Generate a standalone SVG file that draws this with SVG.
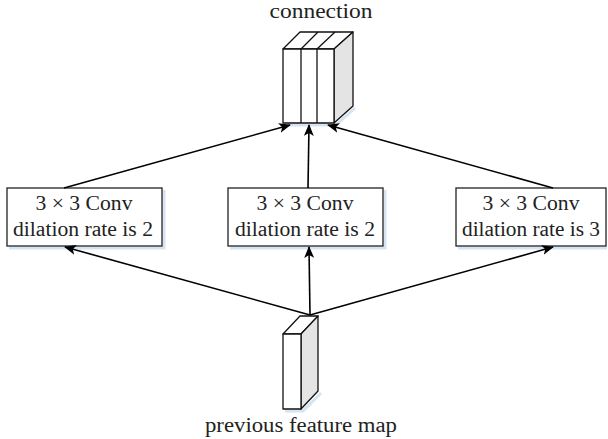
<svg xmlns="http://www.w3.org/2000/svg" width="608" height="439" viewBox="0 0 608 439">
<defs>
<marker id="ah" markerWidth="12" markerHeight="10" refX="11" refY="5" orient="auto" markerUnits="userSpaceOnUse">
<path d="M0,0 L12,5 L0,10 L3,5 Z" fill="#000"/>
</marker>
</defs>
<style>
text{font-family:"Liberation Serif","DejaVu Serif",serif;fill:#222;text-anchor:middle}
.t{font-size:20px}
.box{fill:#fff;stroke:#222;stroke-width:1.3}
.sh{fill:none;stroke:#d6e4f2;stroke-width:3}
.face{fill:#fff;stroke:#111;stroke-width:1.3;stroke-linejoin:round}
.side{fill:#e4e4e4;stroke:#111;stroke-width:1.3;stroke-linejoin:round}
.c{stroke:#000;stroke-width:1.6;fill:none;marker-end:url(#ah)}
</style>
<g id="connection">
<path class="sh" d="M285,125 L336,125 L355,108"/>
<polygon class="face" points="283,49 300,32 353,32 334,49"/>
<line x1="301" y1="49" x2="318" y2="32" stroke="#111" stroke-width="1.3"/>
<line x1="317" y1="49" x2="335" y2="32" stroke="#111" stroke-width="1.3"/>
<polygon class="side" points="334,49 353,32 353,106 334,123"/>
<rect class="face" x="283" y="49" width="51" height="74"/>
<line x1="301" y1="49" x2="301" y2="123" stroke="#111" stroke-width="1.3"/>
<line x1="317" y1="49" x2="317" y2="123" stroke="#111" stroke-width="1.3"/>
<text class="t" x="321" y="18" textLength="103" lengthAdjust="spacingAndGlyphs">connection</text>
</g>
<g id="feature">
<path class="sh" d="M285,411 L303,411 L321,393"/>
<polygon class="face" points="283,334 300,316 318,316 301,334"/>
<polygon class="side" points="301,334 318,316 318,391 301,409"/>
<rect class="face" x="283" y="334" width="18" height="75"/>
<text class="t" x="301" y="432" textLength="192" lengthAdjust="spacingAndGlyphs">previous feature map</text>
</g>
<g id="conv1">
<path class="sh" d="M9,248 L164,248 L164,190"/>
<rect class="box" x="7" y="188" width="155" height="58"/>
<text class="t" x="84" y="210" textLength="97" lengthAdjust="spacingAndGlyphs">3 × 3 Conv</text>
<text class="t" x="83" y="236" textLength="140" lengthAdjust="spacingAndGlyphs">dilation rate is 2</text>
</g>
<g id="conv2">
<path class="sh" d="M230,248 L385,248 L385,190"/>
<rect class="box" x="228" y="188" width="155" height="58"/>
<text class="t" x="305" y="210" textLength="97" lengthAdjust="spacingAndGlyphs">3 × 3 Conv</text>
<text class="t" x="305" y="236" textLength="140" lengthAdjust="spacingAndGlyphs">dilation rate is 2</text>
</g>
<g id="conv3">
<path class="sh" d="M458,248 L607,248"/>
<rect class="box" x="456" y="188" width="150" height="58"/>
<text class="t" x="531" y="210" textLength="97" lengthAdjust="spacingAndGlyphs">3 × 3 Conv</text>
<text class="t" x="531" y="236" textLength="138" lengthAdjust="spacingAndGlyphs">dilation rate is 3</text>
</g>
<g id="connectors">
<line class="c" x1="64" y1="188" x2="290" y2="125"/>
<line class="c" x1="308" y1="188" x2="309" y2="125"/>
<line class="c" x1="553" y1="188" x2="328" y2="125"/>
<line class="c" x1="310" y1="315" x2="65" y2="247"/>
<line class="c" x1="310" y1="315" x2="309" y2="247"/>
<line class="c" x1="310" y1="315" x2="553" y2="247"/>
</g>
</svg>
